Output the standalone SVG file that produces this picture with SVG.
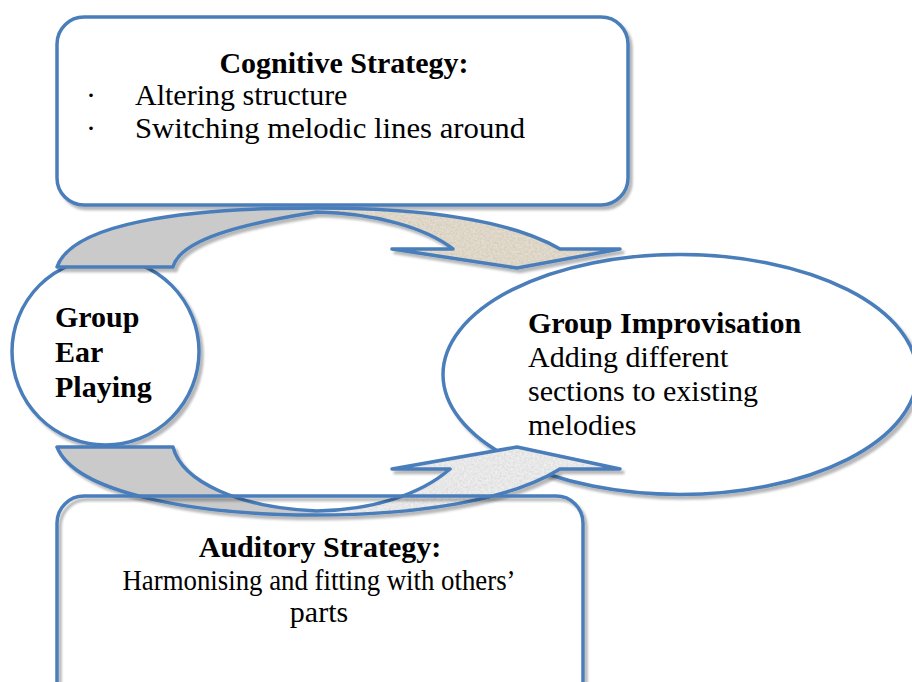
<svg xmlns="http://www.w3.org/2000/svg" width="912" height="682" viewBox="0 0 912 682">
<style>
.ln{stroke:#4a7ebb;stroke-width:3.5;stroke-linejoin:round}
.t{font-family:"Liberation Serif","Times New Roman",serif;font-size:30px;fill:#000}
.b{font-weight:bold}
</style>
<defs>
<filter id="sh" x="-5%" y="-5%" width="115%" height="125%">
<feDropShadow dx="3" dy="3.5" stdDeviation="1.2" flood-color="#000" flood-opacity="0.28"/>
</filter>
<filter id="tex" x="0" y="0" width="1" height="1">
<feTurbulence type="fractalNoise" baseFrequency="0.45" numOctaves="3" seed="4" result="n"/>
<feColorMatrix in="n" type="saturate" values="0" result="g"/>
<feComponentTransfer in="g" result="g2">
<feFuncR type="linear" slope="0.4" intercept="0.74"/>
<feFuncG type="linear" slope="0.4" intercept="0.74"/>
<feFuncB type="linear" slope="0.4" intercept="0.74"/>
<feFuncA type="table" tableValues="1 1"/>
</feComponentTransfer>
<feBlend in="SourceGraphic" in2="g2" mode="multiply" result="m"/>
<feComposite in="m" in2="SourceGraphic" operator="in"/>
</filter>
<clipPath id="leftc"><rect x="0" y="150" width="316" height="400"/></clipPath>
<clipPath id="rightc"><rect x="316" y="150" width="400" height="400"/></clipPath>
<path id="topArrow" d="M57,267 C72,224 180,208 315,208 C420,208 510,220 560,249 L620,249 L517,268 L392,249 L453,249 C425,227 372,213 317,212 C240,224 180,240 173,267 Z"/>
<path id="botArrow" d="M57,447 L173,447 C182,482 240,508 317,511 C372,510 420,495 450,469 L392,469 L517,447 L620,469 L560,469 C510,500 420,515 315,515 C190,515 75,492 57,447 Z"/>
</defs>
<rect width="912" height="682" fill="#fff"/>

<g id="cognitive-strategy">
<rect class="ln" x="57" y="17" width="571" height="188" rx="27" fill="#fff" filter="url(#sh)"/>
<text class="t b" x="344" y="73" text-anchor="middle">Cognitive Strategy:</text>
<text class="t" x="86" y="105">·</text>
<text class="t" x="135" y="105">Altering structure</text>
<text class="t" x="86" y="138">·</text>
<text class="t" x="135" y="138" textLength="390" lengthAdjust="spacingAndGlyphs">Switching melodic lines around</text>
</g>

<g id="group-ear-playing">
<circle class="ln" cx="105.5" cy="351.5" r="93.5" fill="#fff" filter="url(#sh)"/>
<text class="t b" x="55" y="327">Group</text>
<text class="t b" x="55" y="362">Ear</text>
<text class="t b" x="55" y="397">Playing</text>
</g>

<g id="group-improvisation">
<ellipse class="ln" cx="680" cy="374.5" rx="237" ry="120" fill="#fff" filter="url(#sh)"/>
<text class="t b" x="528" y="333">Group Improvisation</text>
<text class="t" x="528" y="367">Adding different</text>
<text class="t" x="528" y="401">sections to existing</text>
<text class="t" x="528" y="435">melodies</text>
</g>

<g id="connectors">
<g id="arrow-top" filter="url(#sh)">
<use href="#topArrow" fill="#cacaca" clip-path="url(#leftc)"/>
<use href="#topArrow" fill="#e4dccd" clip-path="url(#rightc)" filter="url(#tex)"/>
<use href="#topArrow" class="ln" fill="none"/>
</g>
<g id="arrow-bottom" filter="url(#sh)">
<use href="#botArrow" fill="#cacaca" clip-path="url(#leftc)"/>
<use href="#botArrow" fill="#eeeeee" clip-path="url(#rightc)" filter="url(#tex)"/>
<use href="#botArrow" class="ln" fill="none"/>
</g>
</g>

<g id="auditory-strategy">
<rect class="ln" x="57" y="496" width="526" height="220" rx="27" fill="none" filter="url(#sh)"/>
<text class="t b" x="320" y="557" text-anchor="middle">Auditory Strategy:</text>
<text class="t" x="319" y="590" text-anchor="middle" textLength="393" lengthAdjust="spacingAndGlyphs">Harmonising and fitting with others’</text>
<text class="t" x="319" y="622" text-anchor="middle">parts</text>
</g>
</svg>
